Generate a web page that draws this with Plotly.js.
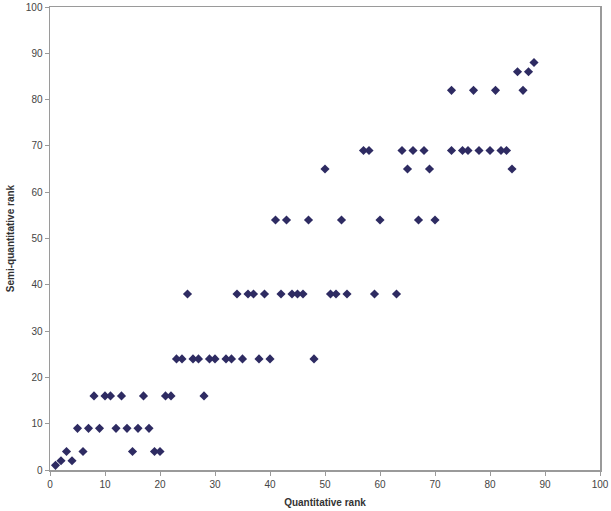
<!DOCTYPE html>
<html>
<head>
<meta charset="utf-8">
<script src="https://cdn.plot.ly/plotly-3.0.1.min.js"></script>
<style>html,body{margin:0;padding:0;background:#fff;}#chart{width:611px;height:511px;}</style>
</head>
<body>
<div id="chart"></div>
<script>
const quantitativeRank = [
  1, 2, 3, 4, 5, 6, 7, 8, 9, 10, 11, 12, 13, 14, 15, 16, 17, 18, 19, 20, 21, 22,
  23, 24, 25, 26, 27, 28, 29, 30, 32, 33, 34, 35, 36, 37, 38, 39, 40,
  41, 42, 43, 44, 45, 46, 47, 48, 50, 51, 52, 53, 54, 57, 58, 59, 60,
  63, 64, 65, 66, 67, 68, 69, 70, 73, 73, 75, 76, 77, 78, 80, 81, 82, 83, 84,
  85, 86, 87, 88
];
const semiQuantitativeRank = [
  1, 2, 4, 2, 9, 4, 9, 16, 9, 16, 16, 9, 16, 9, 4, 9, 16, 9, 4, 4, 16, 16,
  24, 24, 38, 24, 24, 16, 24, 24, 24, 24, 38, 24, 38, 38, 24, 38, 24,
  54, 38, 54, 38, 38, 38, 54, 24, 65, 38, 38, 54, 38, 69, 69, 38, 54,
  38, 69, 65, 69, 54, 69, 65, 54, 82, 69, 69, 69, 82, 69, 69, 82, 69, 69, 65,
  86, 82, 86, 88
];
const tickVals = [0, 10, 20, 30, 40, 50, 60, 70, 80, 90, 100];

const trace = {
  x: quantitativeRank,
  y: semiQuantitativeRank,
  type: 'scatter',
  mode: 'markers',
  marker: {symbol: 'diamond', size: 7, color: '#2e2b62'},
  hoverinfo: 'x+y'
};

const axisCommon = {
  range: [0, 100],
  tickvals: tickVals,
  showgrid: false,
  zeroline: false,
  showline: true,
  mirror: true,
  linecolor: '#9a9a9a',
  linewidth: 1.5,
  ticks: 'outside',
  ticklen: 4,
  tickcolor: '#9a9a9a',
  tickfont: {family: 'Liberation Sans, Arial, sans-serif', size: 10, color: '#444'}
};

const layout = {
  width: 611,
  height: 511,
  margin: {l: 50, r: 11, t: 7, b: 41},
  paper_bgcolor: '#fff',
  plot_bgcolor: '#fff',
  showlegend: false,
  xaxis: Object.assign({}, axisCommon, {
    title: {text: '<b>Quantitative rank</b>', font: {family: 'Liberation Sans, Arial, sans-serif', size: 10, color: '#333'}, standoff: 10}
  }),
  yaxis: Object.assign({}, axisCommon, {
    title: {text: '<b>Semi-quantitative rank</b>', font: {family: 'Liberation Sans, Arial, sans-serif', size: 10, color: '#333'}, standoff: 9}
  })
};

Plotly.newPlot('chart', [trace], layout, {displayModeBar: false, staticPlot: true});
</script>
</body>
</html>
